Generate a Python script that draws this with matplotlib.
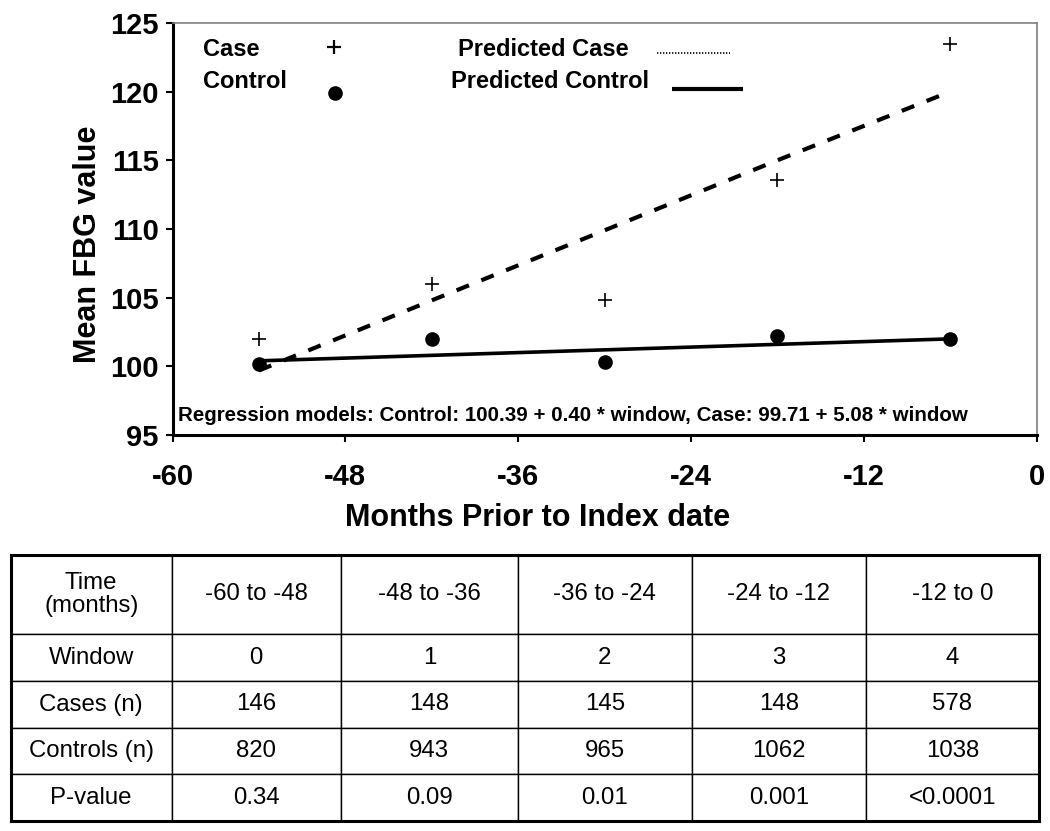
import matplotlib.pyplot as plt

plt.rcParams['font.family'] = ['Liberation Sans', 'DejaVu Sans']
plt.rcParams['axes.unicode_minus'] = False

# --- data ---
months = [-54, -42, -30, -18, -6]
case_mean = [102.0, 106.0, 104.8, 113.6, 123.5]
control_mean = [100.2, 102.0, 100.3, 102.2, 102.0]
pred_case = [99.7, 104.8, 109.9, 115.0, 120.0]
pred_control = [100.4, 100.8, 101.2, 101.6, 102.0]

row_labels = ['Time\n(months)', 'Window', 'Cases (n)', 'Controls (n)', 'P-value']
periods = ['-60 to -48', '-48 to -36', '-36 to -24', '-24 to -12', '-12 to 0']
windows = ['0', '1', '2', '3', '4']
cases_n = ['146', '148', '145', '148', '578']
controls_n = ['820', '943', '965', '1062', '1038']
p_values = ['0.34', '0.09', '0.01', '0.001', '<0.0001']

W, H = 1050, 831
fig = plt.figure(figsize=(W / 100, H / 100), dpi=100)

# --- chart ---
ax = fig.add_axes([172.5 / W, 1 - 435 / H, 864 / W, 412 / H])
ax.plot(months, pred_case, color='black', lw=3.0, linestyle=(0, (3.2, 3.2)),
        dash_capstyle='butt')
ax.plot(months, pred_control, color='black', lw=2.6)
ax.plot(months, case_mean, '+', color='black', ms=10, mew=1.2)
ax.plot(months, control_mean, 'o', color='black', ms=9.5)

ax.set_xlim(-60, 0)
ax.set_ylim(95, 125)
ax.set_xticks(range(-60, 1, 12))
ax.set_yticks(range(95, 126, 5))
ax.tick_params(axis='both', direction='out', length=5, width=1.5, labelsize=21)
ax.tick_params(axis='x', pad=15)
ax.tick_params(axis='y', pad=5)
for lab in ax.get_xticklabels() + ax.get_yticklabels():
    lab.set_fontweight('bold')

for side in ['left', 'bottom']:
    ax.spines[side].set_linewidth(2.2)
for side in ['top', 'right']:
    ax.spines[side].set_linewidth(1.2)
    ax.spines[side].set_color('#808080')

ax.set_xlabel('Months Prior to Index date', fontsize=22, fontweight='bold')
ax.xaxis.set_label_coords(0.423, -0.165)
ax.set_ylabel('Mean FBG value', fontsize=22, fontweight='bold')
ax.yaxis.set_label_coords(-0.08, 0.464)

# hand-drawn legend
lg = dict(transform=ax.transAxes, fontsize=17, fontweight='bold', va='center')
ax.text(0.035, 0.935, 'Case', **lg)
ax.text(0.035, 0.857, 'Control', **lg)
ax.text(0.330, 0.935, 'Predicted Case', **lg)
ax.text(0.322, 0.857, 'Predicted Control', **lg)
ax.plot([0.187], [0.942], '+', color='black', ms=10, mew=1.6,
        transform=ax.transAxes, clip_on=False)
ax.plot([0.188], [0.830], 'o', color='black', ms=9.5,
        transform=ax.transAxes, clip_on=False)
ax.plot([0.561, 0.645], [0.928, 0.928], color='black', lw=1.2,
        linestyle=(0, (0.8, 1.0)), transform=ax.transAxes)
ax.plot([0.578, 0.660], [0.840, 0.840], color='black', lw=3,
        transform=ax.transAxes, solid_capstyle='butt')

ax.text(0.006, 0.034,
        'Regression models: Control: 100.39 + 0.40 * window, Case: 99.71 + 5.08 * window',
        transform=ax.transAxes, fontsize=14.8, fontweight='bold', va='baseline')

# --- table ---
tax = fig.add_axes([10.7 / W, 1 - 821 / H, (1039 - 10.7) / W, (821 - 555) / H])
tax.set_xticks([])
tax.set_yticks([])
for sp in tax.spines.values():
    sp.set_linewidth(2.2)

cells = [[r] + vals for r, vals in zip(row_labels,
                                       [periods, windows, cases_n, controls_n, p_values])]
col_w = [161, 169, 177, 174, 174, 173]
row_h = [79, 47, 47, 46, 47]
tbl = tax.table(cellText=cells, cellLoc='center', bbox=[0, 0, 1, 1],
                colWidths=[c / sum(col_w) for c in col_w])
tbl.auto_set_font_size(False)
for (r, c), cell in tbl.get_celld().items():
    cell.set_height(row_h[r] / sum(row_h))
    cell.set_linewidth(1.0)
    cell.get_text().set_fontsize(17.3)
    cell.get_text().set_linespacing(1.1)

fig.savefig('out.png', dpi=100)
